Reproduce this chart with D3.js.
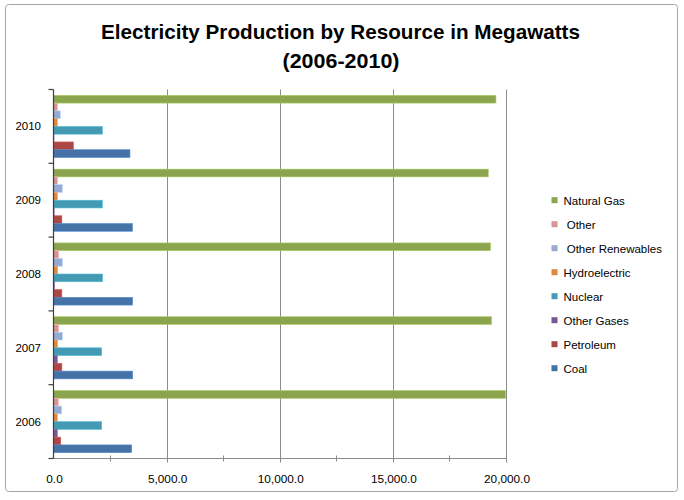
<!DOCTYPE html>
<html><head><meta charset="utf-8">
<script src="https://cdn.jsdelivr.net/npm/d3@7"></script>
<style>html,body{margin:0;padding:0;background:#fff}svg{display:block}</style>
</head><body>
<script>
const years = ["2006","2007","2008","2009","2010"];
const seriesNames = ["Natural Gas"," Other"," Other Renewables","Hydroelectric","Nuclear","Other Gases","Petroleum","Coal"];
const seriesColors = ["#8BA54F","#D39694","#95AAD0","#E0873E","#439AB2","#765A94","#AC4745","#4572A7"];
const naturalGas = [19980, 19360, 19320, 19215, 19555];
const other = [215, 230, 230, 175, 175];
const otherRenewables = [360, 390, 390, 390, 300];
const hydroelectric = [170, 185, 185, 170, 170];
const nuclear = [2130, 2130, 2170, 2160, 2160];
const otherGases = [170, 170, 50, 30, 20];
const petroleum = [320, 370, 370, 370, 880];
const coal = [3455, 3500, 3500, 3490, 3380];
const seriesValues = [naturalGas, other, otherRenewables, hydroelectric, nuclear, otherGases, petroleum, coal];
const xTicks = [0, 5000, 10000, 15000, 20000];
const xMinorTicks = [2500, 7500, 12500, 17500];

(function(){
const W = 684, H = 500;
const svg = d3.select("body").append("svg").attr("width", W).attr("height", H);
const font = "'Liberation Sans', Arial, sans-serif";

svg.append("rect").attr("x",5.5).attr("y",4.5).attr("width",672).attr("height",487)
  .attr("rx",3).attr("fill","#fff").attr("stroke","#a6a6a6").attr("stroke-width",1);

const pL = 53.5, pR = 506, pT = 89.5, pB = 458.5;
const x = d3.scaleLinear().domain([0, 20000]).range([pL, pR]);
const y = d3.scaleBand().domain(years.slice().reverse()).range([pT, pB]).padding(0);
const yInner = d3.scaleBand().domain(seriesNames).range([0, y.bandwidth()]).paddingInner(0).paddingOuter(0.75);

// gridlines
svg.append("g").selectAll("line").data(xTicks.filter(d => d > 0)).join("line")
  .attr("x1", d => Math.round(x(d)) + 0.5).attr("x2", d => Math.round(x(d)) + 0.5)
  .attr("y1", pT).attr("y2", pB + 4)
  .attr("stroke", "#8c8c8c").attr("stroke-width", 1);

// bars
const data = [];
years.forEach((yr, i) => seriesNames.forEach((s, j) => data.push({yr, s, v: seriesValues[j][i], c: seriesColors[j]})));
svg.append("g").selectAll("rect").data(data).join("rect")
  .attr("x", x(0)).attr("y", d => y(d.yr) + yInner(d.s))
  .attr("width", d => x(d.v) - x(0)).attr("height", yInner.bandwidth())
  .attr("fill", d => d.c)
  .attr("stroke", d => d3.color(d.c).brighter(0.6)).attr("stroke-width", 0.6);

// x axis line + ticks
svg.append("line").attr("x1", pL).attr("x2", pR).attr("y1", pB).attr("y2", pB)
  .attr("stroke", "#8c8c8c");
svg.append("g").selectAll("line").data(xMinorTicks).join("line")
  .attr("x1", d => Math.round(x(d)) + 0.5).attr("x2", d => Math.round(x(d)) + 0.5)
  .attr("y1", pB - 3).attr("y2", pB + 3).attr("stroke", "#8c8c8c");
svg.append("g").selectAll("text").data(xTicks).join("text")
  .attr("x", d => x(d) + 1).attr("y", 483).attr("text-anchor", "middle")
  .attr("font-family", font).attr("font-size", "11.8px").attr("fill", "#000")
  .text(d => d3.format(",.1f")(d));

// y axis
svg.append("line").attr("x1", pL).attr("x2", pL).attr("y1", pT).attr("y2", pB)
  .attr("stroke", "#404040").attr("stroke-width", 1.2);
const bounds = years.map(yr => y(yr)).concat([pB]);
svg.append("g").selectAll("line").data(bounds).join("line")
  .attr("x1", pL - 5).attr("x2", pL).attr("y1", d => d).attr("y2", d => d)
  .attr("stroke", "#404040").attr("stroke-width", 1.2);
svg.append("g").selectAll("text").data(years).join("text")
  .attr("x", 41).attr("y", d => y(d) + y.bandwidth() / 2 + 4).attr("text-anchor", "end")
  .attr("font-family", font).attr("font-size", "11.5px").attr("fill", "#000")
  .text(d => d);

// title
svg.append("text").attr("x", 340.5).attr("y", 38.5).attr("text-anchor", "middle")
  .attr("font-family", font).attr("font-weight", "bold").attr("font-size", "21px")
  .attr("textLength", 479).attr("lengthAdjust", "spacingAndGlyphs")
  .text("Electricity Production by Resource in Megawatts");
svg.append("text").attr("x", 341).attr("y", 68).attr("text-anchor", "middle")
  .attr("font-family", font).attr("font-weight", "bold").attr("font-size", "21px")
  .attr("textLength", 117).attr("lengthAdjust", "spacingAndGlyphs")
  .text("(2006-2010)");

// legend
const lg = svg.append("g").selectAll("g").data(seriesNames).join("g")
  .attr("transform", (d, i) => `translate(551.5, ${200.7 + i * 24})`);
lg.append("rect").attr("x", 0).attr("y", -3.5).attr("width", 6).attr("height", 6)
  .attr("fill", (d, i) => seriesColors[i]);
lg.append("text").attr("x", 12).attr("y", 4)
  .style("white-space", "pre")
  .attr("font-family", font).attr("font-size", "11.5px").attr("fill", "#000")
  .text(d => d);
})();
</script>
</body></html>
